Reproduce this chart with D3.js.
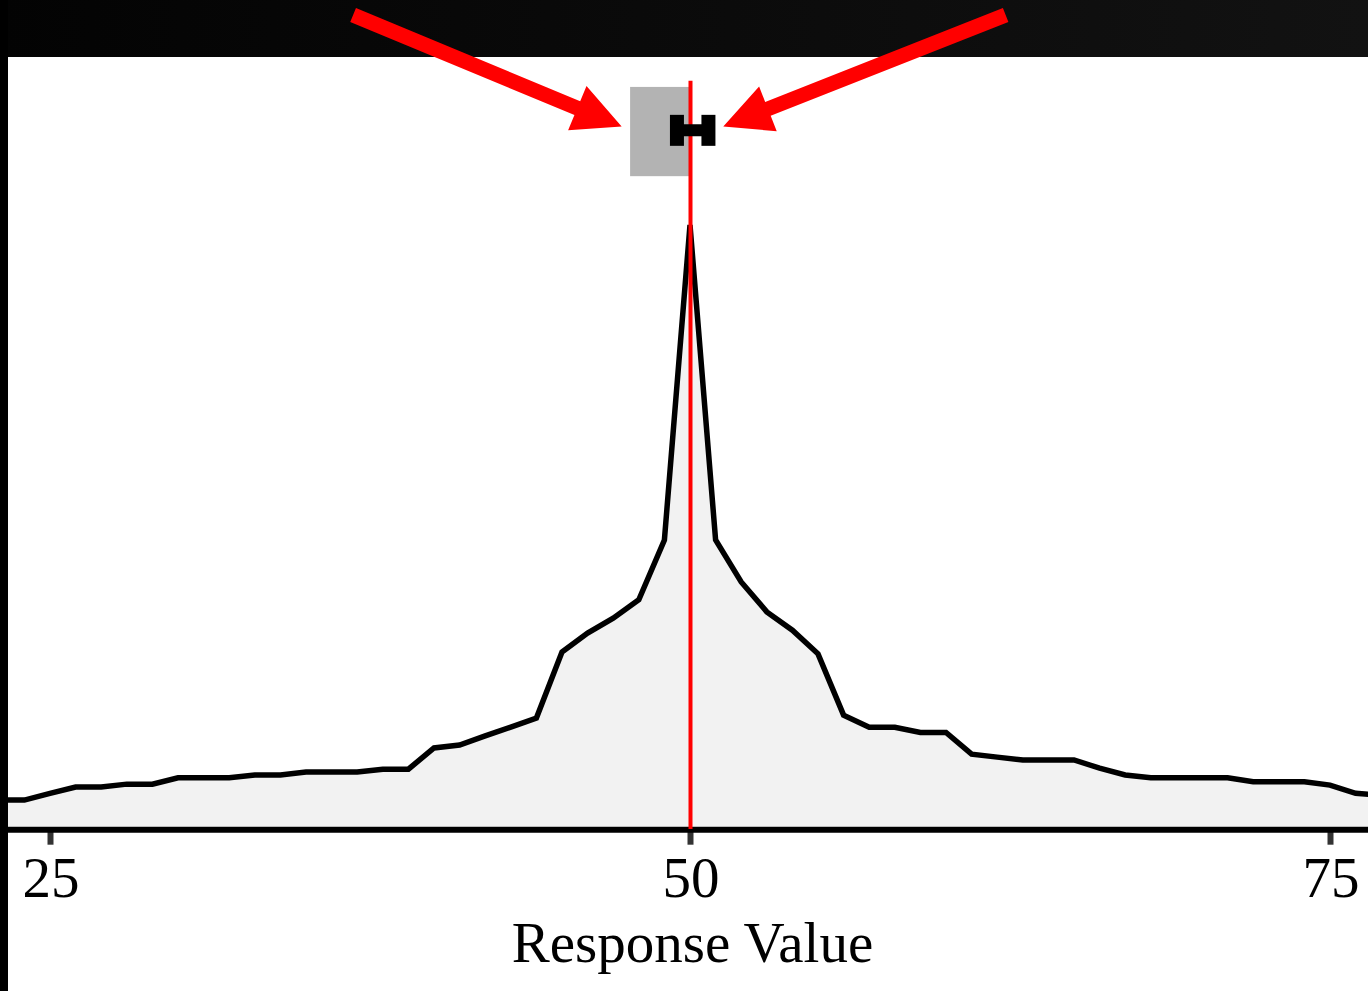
<!DOCTYPE html>
<html>
<head>
<meta charset="utf-8">
<script src="https://cdn.jsdelivr.net/npm/d3@7"></script>
<style>
html,body{margin:0;padding:0;background:#fff;}
svg{display:block;}
</style>
</head>
<body>
<svg id="chart" width="1368" height="991"></svg>
<script>
// ---- data ----
const responseValues = [23,24,25,26,27,28,29,30,31,32,33,34,35,36,37,38,39,40,41,42,43,44,45,46,47,48,49,50,
  51,52,53,54,55,56,57,58,59,60,61,62,63,64,65,66,67,68,69,70,71,72,73,74,75,76,77];
const densityPct = [0.60,0.60,0.74,0.87,0.87,0.93,0.93,1.06,1.06,1.06,1.12,1.12,1.18,1.18,1.18,1.24,1.24,1.68,1.74,1.93,2.11,2.30,3.67,4.06,4.37,4.75,5.99,12.52,
  5.99,5.12,4.50,4.12,3.63,2.36,2.11,2.11,2.00,2.00,1.55,1.49,1.43,1.43,1.43,1.26,1.12,1.06,1.06,1.06,1.06,0.98,0.98,0.98,0.91,0.74,0.70];
const xTicks = [25, 50, 75];
const xTitle = "Response Value";
const referenceValue = 50;
const boxRange = [47.66, 50];          // grey box (x extent)
const boxYRange = [13.53, 15.38];      // grey box (y extent)
const errorBar = {lo: 49.49, hi: 50.72, y: 14.48};
const refLineTop = 15.51;
const arrows = [
  {from: [36.84, 16.87], to: [47.33, 14.56]},
  {from: [62.33, 16.87], to: [51.30, 14.56]}
];

// ---- layout ----
const W = 1368, H = 991;
const plot = {left: 8, right: 1368, top: 57, bottom: 829};
const svg = d3.select("#chart");

const x = d3.scaleLinear().domain([25, 75]).range([50, 1330]);
const y = d3.scaleLinear().domain([0, 16]).range([plot.bottom, plot.top]);

// background frame
const defs = svg.append("defs");
const grad = defs.append("linearGradient").attr("id","topgrad").attr("x1","0%").attr("x2","100%");
grad.append("stop").attr("offset","0%").attr("stop-color","#030303");
grad.append("stop").attr("offset","100%").attr("stop-color","#121212");
defs.append("clipPath").attr("id","plotclip").append("rect")
  .attr("x", plot.left).attr("y", 0).attr("width", plot.right - plot.left).attr("height", plot.bottom);

svg.append("rect").attr("x",0).attr("y",0).attr("width",W).attr("height",plot.top).attr("fill","url(#topgrad)");
svg.append("rect").attr("x",0).attr("y",0).attr("width",plot.left).attr("height",H).attr("fill","#000");

const data = responseValues.map((v,i)=>({v, d: densityPct[i]}));
const g = svg.append("g").attr("clip-path","url(#plotclip)");

// area fill
g.append("path").datum(data)
  .attr("fill","#f2f2f2")
  .attr("d", d3.area().x(d=>x(d.v)).y0(y(0) - 2.5).y1(d=>y(d.d)));

// density line
g.append("path").datum(data)
  .attr("fill","none").attr("stroke","#000").attr("stroke-width",5.5)
  .attr("stroke-linejoin","miter").attr("stroke-miterlimit",10)
  .attr("d", d3.line().x(d=>x(d.v)).y(d=>y(d.d)));

// x axis
const axisG = svg.append("g").attr("transform",`translate(0,${plot.bottom + 0.7})`)
  .call(d3.axisBottom(x).tickValues(xTicks).tickSize(15).tickPadding(0).tickFormat(d3.format("d")));
axisG.select(".domain").remove();
axisG.selectAll(".tick line").attr("stroke","#333").attr("stroke-width",6);
axisG.selectAll(".tick text").remove();
svg.append("line").attr("x1",plot.left).attr("x2",plot.right)
  .attr("y1",plot.bottom + 0.7).attr("y2",plot.bottom + 0.7)
  .attr("stroke","#000").attr("stroke-width",6);

svg.append("g").selectAll("text").data(xTicks).join("text")
  .attr("x", d=>x(d) + 1).attr("y", 896.5)
  .attr("text-anchor","middle")
  .attr("font-family","'Liberation Serif','Times New Roman',serif")
  .attr("font-size",57).attr("fill","#000")
  .text(d=>d);

svg.append("text").attr("x", 692.5).attr("y", 962)
  .attr("text-anchor","middle")
  .attr("font-family","'Liberation Serif','Times New Roman',serif")
  .attr("font-size",57).attr("fill","#000")
  .text(xTitle);

// grey box
svg.append("rect")
  .attr("x", x(boxRange[0])).attr("width", x(boxRange[1]) - x(boxRange[0]))
  .attr("y", y(boxYRange[1])).attr("height", y(boxYRange[0]) - y(boxYRange[1]))
  .attr("fill","#b3b3b3");

// reference line
svg.append("line")
  .attr("x1", x(referenceValue) + 0.5).attr("x2", x(referenceValue) + 0.5)
  .attr("y1", y(refLineTop)).attr("y2", plot.bottom)
  .attr("stroke","#ff0000").attr("stroke-width",4);

// error bar
const eb = svg.append("g").attr("fill","none").attr("stroke","#000");
eb.append("line").attr("x1", x(errorBar.lo)).attr("x2", x(errorBar.hi))
  .attr("y1", y(errorBar.y)).attr("y2", y(errorBar.y)).attr("stroke-width",12);
[errorBar.lo, errorBar.hi].forEach(v=>{
  eb.append("line").attr("x1", x(v)).attr("x2", x(v))
    .attr("y1", y(errorBar.y) - 15.5).attr("y2", y(errorBar.y) + 15.5).attr("stroke-width",14);
});

// arrows
function arrowPath(x0,y0,x1,y1){
  const shaftW = 15, headL = 48, headW = 48;
  const dx = x1-x0, dy = y1-y0, L = Math.hypot(dx,dy);
  const ux = dx/L, uy = dy/L, px = -uy, py = ux;
  const bx = x1 - ux*headL, by = y1 - uy*headL;
  const pts = [
    [x0 + px*shaftW/2, y0 + py*shaftW/2],
    [bx + px*shaftW/2, by + py*shaftW/2],
    [bx + px*headW/2, by + py*headW/2],
    [x1, y1],
    [bx - px*headW/2, by - py*headW/2],
    [bx - px*shaftW/2, by - py*shaftW/2],
    [x0 - px*shaftW/2, y0 - py*shaftW/2]
  ];
  return "M" + pts.map(p=>p.join(",")).join("L") + "Z";
}
svg.append("g").selectAll("path").data(arrows).join("path")
  .attr("fill","#ff0000")
  .attr("d", a=>arrowPath(x(a.from[0]), y(a.from[1]), x(a.to[0]), y(a.to[1])));
</script>
</body>
</html>
